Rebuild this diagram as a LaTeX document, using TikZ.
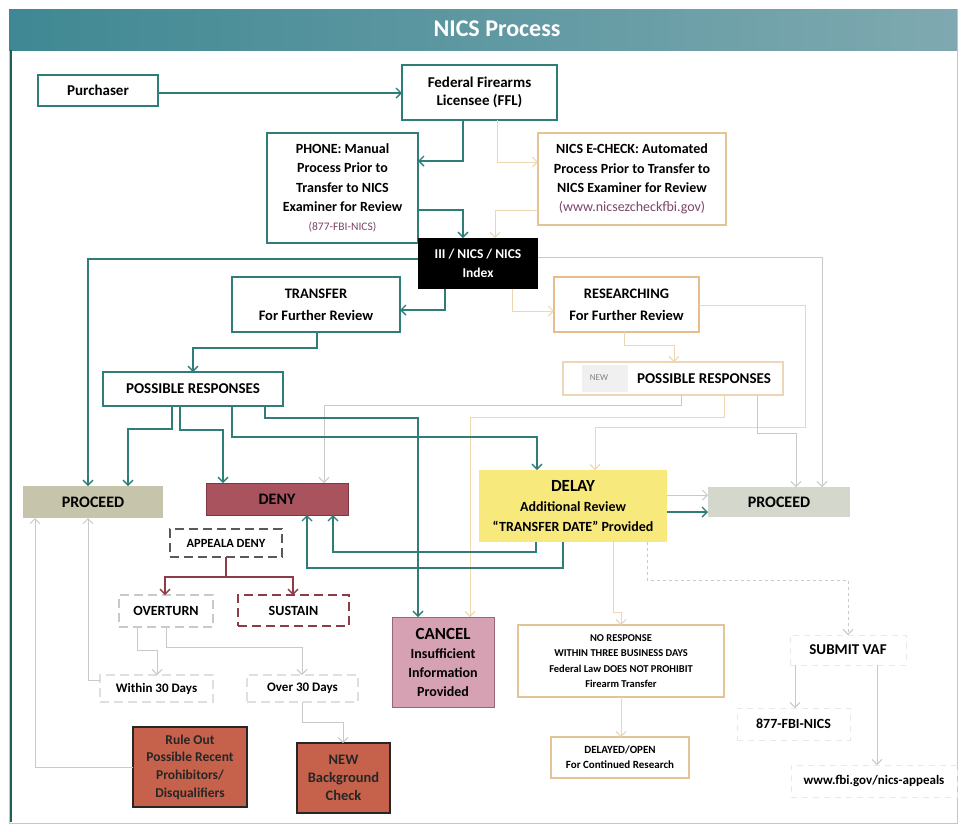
\documentclass[tikz,border=0pt]{standalone}
\usepackage{fontspec}
\setmainfont{Carlito}
\usetikzlibrary{arrows.meta}
\definecolor{teal1}{HTML}{2E7D78}
\definecolor{titleL}{HTML}{3F8893}
\definecolor{titleR}{HTML}{7FA9B0}
\definecolor{tan1}{HTML}{E2C496}
\definecolor{tan2}{HTML}{E7BD8E}
\definecolor{tan3}{HTML}{EBD6B8}
\definecolor{lgray}{HTML}{C9C9C9}
\definecolor{lor}{HTML}{EED6AE}
\definecolor{procL}{HTML}{C6C5AB}
\definecolor{procR}{HTML}{D4D7CC}
\definecolor{denyfill}{HTML}{A9535F}
\definecolor{denydraw}{HTML}{7E3643}
\definecolor{delayfill}{HTML}{F8E97C}
\definecolor{cancelfill}{HTML}{D6A1B2}
\definecolor{canceldraw}{HTML}{9C6474}
\definecolor{redfill}{HTML}{C6624B}
\definecolor{maroon1}{HTML}{8E3B48}
\definecolor{urlcol}{HTML}{7B4668}
\newcommand\myfs[2]{\fontsize{#1}{#2}\selectfont}
\begin{document}
\begin{tikzpicture}[x=1pt,y=-1pt,
  corners/.style args={#1,#2,#3,#4}{minimum width={#3-#1}, minimum height={#4-#2}, at={(0.5*#1+0.5*#3,0.5*#2+0.5*#4)}},
  base/.style={align=center, inner sep=0pt, outer sep=0pt, text=black, font=\bfseries\myfs{14}{19}},
  tbox/.style={base, draw=teal1, line width=1.6pt, fill=white},
  obox/.style={base, draw=tan1, line width=1.4pt, fill=white},
  dbox/.style={base, draw=black!65, line width=1.4pt, dash pattern=on 9pt off 5pt, fill=white},
  fbox/.style={base, draw=gray!18, line width=1pt, dash pattern=on 6pt off 5pt},
  rbox/.style={base, draw=black!85, line width=1.6pt, fill=redfill, text=black!85},
  arr/.style={-{Straight Barb[length=5pt,width=10pt]}},
  tl/.style={draw=teal1, line width=1.4pt, arr},
  ml/.style={draw=maroon1, line width=1.4pt, arr},
  lg/.style={draw=lgray, line width=1pt, arr},
  lo/.style={draw=lor, line width=1pt, arr}
]
\useasboundingbox (0,0) rectangle (962,831);
\fill[white] (0,0) rectangle (962,831);
% frame and title
\draw[gray!45, line width=1pt] (9,9) rectangle (957,823);
\shade[left color=titleL, right color=titleR] (9,9) rectangle (957,50);
\draw[teal1!75!black, line width=1.8pt] (11,50) -- (11,822);
\node[font=\bfseries\myfs{24}{26}, text=white] (title) at (497,29) {NICS Process};

% nodes
\node[tbox, corners={38,75,158,106}, font=\bfseries\myfs{15}{18}] (purch) {Purchaser};
\node[tbox, corners={402,65,557,120}, font=\bfseries\myfs{15}{18}] (ffl) {Federal Firearms\\Licensee (FFL)};
\node[tbox, corners={267,133,418,243}, font=\bfseries\myfs{14}{19.3}] (phone) {PHONE: Manual\\Process Prior to\\Transfer to NICS\\Examiner for Review\\{\mdseries\myfs{11.5}{19.3}\color{urlcol}(877-FBI-NICS)}};
\node[obox, corners={538,133,726,225}, font=\bfseries\myfs{14}{19.3}] (echeck) {NICS E-CHECK: Automated\\Process Prior to Transfer to\\NICS Examiner for Review\\{\mdseries\color{urlcol}(www.nicsezcheckfbi.gov)}};
\node[base, fill=black, text=white, corners={418,238,538,289}, font=\bfseries\myfs{13.5}{19}] (iii) {III / NICS / NICS\\Index};
\node[tbox, corners={232,277,400,332}, font=\bfseries\myfs{14.5}{22}] (transfer) {TRANSFER\\For Further Review};
\node[obox, draw=tan2, corners={554,277,699,332}, font=\bfseries\myfs{14.5}{22}] (research) {RESEARCHING\\For Further Review};
\node[tbox, corners={103,372,283,406}, font=\bfseries\myfs{15}{18}] (prl) {POSSIBLE RESPONSES};
\node[obox, draw=tan3, corners={563,362,783,395}] (newpr) {};
\fill[gray!12] (582,365) rectangle (628,392);
\node[font=\myfs{9}{10}, text=gray] (newlbl) at (599,378) {NEW};
\node[font=\bfseries\myfs{15}{18}] (newprtxt) at (704,379) {POSSIBLE RESPONSES};

\node[base, fill=procL, corners={23,486,163,518}, font=\bfseries\myfs{16}{18}] (procl) {PROCEED};
\node[base, fill=denyfill, draw=denydraw, line width=0.8pt, corners={206,483,348,515}, font=\bfseries\myfs{16}{18}] (deny) {DENY};
\node[base, fill=delayfill, corners={479,470,667,542}, font=\bfseries\myfs{14}{20}] (delay) {{\myfs{17}{20}DELAY}\\Additional Review\\“TRANSFER DATE” Provided};
\node[base, fill=procR, corners={708,487,850,517}, font=\bfseries\myfs{16}{18}] (procr) {PROCEED};

\node[dbox, corners={170,529,282,557}, font=\bfseries\myfs{12.5}{15}] (appeal) {APPEALA DENY};
\node[dbox, draw=lgray, corners={119,595,213,627}] (overturn) {OVERTURN};
\node[dbox, draw=maroon1, corners={238,595,349,626}] (sustain) {SUSTAIN};
\node[dbox, draw=gray!25, corners={100,675,213,702}, font=\bfseries\myfs{13}{16}] (within) {Within 30 Days};
\node[dbox, draw=gray!25, corners={247,675,358,702}, font=\bfseries\myfs{13}{16}] (over) {Over 30 Days};
\node[base, fill=cancelfill, draw=canceldraw, line width=0.8pt, corners={392,617,494,707}, font=\bfseries\myfs{14}{19}] (cancel) {{\myfs{17}{19}CANCEL}\\Insufficient\\Information\\Provided};
\node[obox, corners={518,625,724,697}, font=\bfseries\myfs{10.5}{15.3}] (noresp) {NO RESPONSE\\WITHIN THREE BUSINESS DAYS\\Federal Law DOES NOT PROHIBIT\\Firearm Transfer};
\node[obox, corners={551,737,689,778}, font=\bfseries\myfs{11}{15}] (dopen) {DELAYED/OPEN\\For Continued Research};
\node[fbox, corners={790,635,906,665}, font=\bfseries\myfs{15}{18}] (submit) {SUBMIT VAF};
\node[fbox, corners={737,708,850,740}, font=\bfseries\myfs{14}{18}] (n877) {877-FBI-NICS};
\node[fbox, corners={791,765,957,797}, font=\bfseries\myfs{13}{16}] (www) {www.fbi.gov/nics-appeals};
\node[rbox, corners={133,727,247,807}, font=\bfseries\myfs{13.5}{17.7}] (ruleout) {Rule Out\\Possible Recent\\Prohibitors/\\Disqualifiers};
\node[rbox, corners={297,743,390,813}, font=\bfseries\myfs{14.5}{18}] (newbg) {NEW\\Background\\Check};

% light connectors
\draw[lo] (497,0 |- ffl.south) |- (echeck.west |- 0,162);
\draw[lo] (echeck.west |- 0,210) -| (495,0 |- iii.north);
\draw[lo] (512,0 |- iii.south) |- (research.west |- 0,311);
\draw[lg] (iii.east |- 0,257) -| (822,0 |- procr.north);
\draw[lo] (624,0 |- research.south) -- (624,345) -| (674,0 |- newpr.north);
\draw[lg] (681,0 |- newpr.south) -- (681,405) -| (324,0 |- deny.north);
\draw[lo] (724,0 |- newpr.south) -- (724,417) -| (470,0 |- cancel.north);
\draw[lo] (research.east |- 0,305) -| (805,427) -| (595,0 |- delay.north);
\draw[lg] (757,0 |- newpr.south) -- (757,433) -| (796,0 |- procr.north);
\draw[lg] (delay.east |- 0,495) -- (procr.west |- 0,495);
\draw[lo] (613,0 |- delay.south) -- (613,612) -| (621,0 |- noresp.north);
\draw[lg, dashed] (647,0 |- delay.south) -- (647,580) -| (submit.north);
\draw[lo] (621,0 |- noresp.south) -- (621,0 |- dopen.north);
\draw[lg] (795,0 |- submit.south) -- (795,0 |- n877.north);
\draw[lg] (877,0 |- submit.south) -- (877,0 |- www.north);
\draw[lg] (within.west |- 0,680) -| (88,0 |- procl.south);
\draw[lg] (ruleout.west |- 0,767) -| (35,0 |- procl.south);
\draw[lg] (137,0 |- overturn.south) -- (137,650) -| (157,0 |- within.north);
\draw[lg] (166,0 |- overturn.south) -- (166,647) -| (302,0 |- over.north);
\draw[lg] (302,0 |- over.south) -- (302,722) -| (343,0 |- newbg.north);

% teal connectors
\draw[tl] (purch.east |- 0,93) -- (ffl.west |- 0,93);
\draw[tl] (463,0 |- ffl.south) |- (phone.east |- 0,161);
\draw[tl] (phone.east |- 0,210) -| (463,0 |- iii.north);
\draw[tl] (iii.west |- 0,259) -| (88,0 |- procl.north);
\draw[tl] (445,0 |- iii.south) |- (transfer.east |- 0,310);
\draw[tl] (317,0 |- transfer.south) -- (317,348) -| (193,0 |- prl.north);
\draw[tl] (172,0 |- prl.south) -- (172,429) -| (128,0 |- procl.north);
\draw[tl] (180,0 |- prl.south) -- (180,430) -| (223,0 |- deny.north);
\draw[tl] (232,0 |- prl.south) -- (232,437) -| (537,0 |- delay.north);
\draw[tl] (265,0 |- prl.south) -- (265,418) -| (418,0 |- cancel.north);
\draw[tl] (536,0 |- delay.south) -- (536,552) -| (333,0 |- deny.south);
\draw[tl] (563,0 |- delay.south) -- (563,568) -| (307,0 |- deny.south);
\draw[tl] (delay.east |- 0,512) -- (procr.west |- 0,512);

% appeal connectors
\draw[ml] (226,0 |- appeal.south) -- (226,577) -| (165,0 |- overturn.north);
\draw[ml] (226,577) -| (293,0 |- sustain.north);
\end{tikzpicture}
\end{document}
